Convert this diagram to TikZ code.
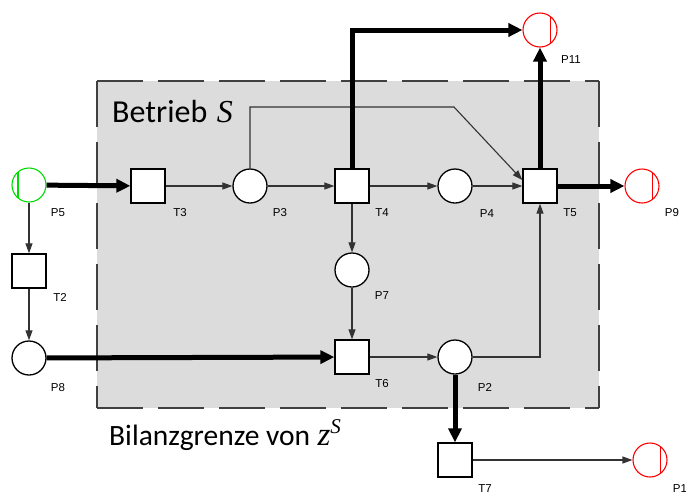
\documentclass[tikz,border=0pt]{standalone}
\usepackage{fontspec}
\setmainfont{Liberation Sans}
\newfontfamily\calfont{Carlito}
\newfontfamily\timesfont{Liberation Serif}
\usetikzlibrary{arrows.meta}
\definecolor{boxgray}{RGB}{220,220,220}
\definecolor{srcgreen}{RGB}{0,220,0}
\tikzset{
  pn/.style={circle, draw, line width=1.3pt, fill=white, minimum size=34pt, inner sep=0pt},
  tn/.style={rectangle, draw, line width=1.3pt, fill=white, minimum size=34pt, inner sep=0pt},
  srcpn/.style={pn, draw=srcgreen, line width=1.1pt, path picture={\draw[srcgreen, line width=1.1pt] ([shift={(-11pt,-15pt)}]path picture bounding box.center) -- ++(0,30pt);}},
  sinkpn/.style={pn, draw=red, line width=1.1pt, path picture={\draw[red, line width=1.1pt] ([shift={(10.5pt,-15pt)}]path picture bounding box.center) -- ++(0,30pt);}},
  lbl/.style={font=\fontsize{11.5}{13}\selectfont, inner sep=0pt},
  arc/.style={draw=black!80, line width=1.1pt, -{Triangle[length=10pt,width=7pt]}},
  bigarc/.style={draw=black, line width=5pt, -{Triangle[length=14pt,width=13pt]}},
  border/.style={draw=black!75, line width=1.5pt, dash pattern=on 46pt off 15pt},
}
\begin{document}
\begin{tikzpicture}[x=1pt,y=-1pt]
\useasboundingbox (0,0) rectangle (686,496);
% system boundary
\fill[boxgray] (97,81) rectangle (599,408);
\coordinate (bTL) at (97,81);
\coordinate (bTR) at (599,81);
\coordinate (bBL) at (97,408);
\coordinate (bBR) at (599,408);
\draw[border] (bTL) -- (bTR);
\draw[border] (bTL) -- (bBL);
\draw[border] (bBL) -- (bBR);
\draw[border] (bTR) -- (bBR);
% texts
\node[anchor=base west, inner sep=0pt] (betrieb) at (112,122) {\fontsize{32}{38}\selectfont\calfont Betrieb\hspace{0.3em}\timesfont\itshape S};
\node[anchor=base west, inner sep=0pt] (bilanz) at (109,445) {\fontsize{29.5}{34}\selectfont\calfont Bilanzgrenze von\hspace{0.25em}{\fontsize{33}{34}\selectfont\timesfont\itshape z}\raisebox{0.4em}{\fontsize{21}{22}\selectfont\timesfont\itshape S}};
% places and transitions
\node[srcpn] (P5) at (29,185) {};
\node[tn] (T3) at (148,186) {};
\node[pn] (P3) at (250,186) {};
\node[tn] (T4) at (352,186) {};
\node[pn] (P4) at (455,186) {};
\node[tn] (T5) at (540,186) {};
\node[sinkpn] (P9) at (642,186) {};
\node[sinkpn] (P11) at (540,30) {};
\node[tn] (T2) at (29,271) {};
\node[pn] (P8) at (29,358) {};
\node[pn] (P7) at (352,270) {};
\node[tn] (T6) at (352,357) {};
\node[pn] (P2) at (455,357) {};
\node[tn] (T7) at (455,460) {};
\node[sinkpn] (P1) at (650,460) {};
% labels
\node[lbl] (P5l) at (58,213) {P5};
\node[lbl] (T3l) at (180,213) {T3};
\node[lbl] (P3l) at (280,213) {P3};
\node[lbl] (T4l) at (382,213) {T4};
\node[lbl] (P4l) at (487,214) {P4};
\node[lbl] (T5l) at (570,213) {T5};
\node[lbl] (P9l) at (672,213) {P9};
\node[lbl] (P11l) at (571,60) {P11};
\node[lbl] (T2l) at (60,297) {T2};
\node[lbl] (P8l) at (58,388) {P8};
\node[lbl] (P7l) at (382,296) {P7};
\node[lbl] (T6l) at (382,384) {T6};
\node[lbl] (P2l) at (485,387) {P2};
\node[lbl] (T7l) at (485,489) {T7};
\node[lbl] (P1l) at (680,489) {P1};
% connectors
\coordinate (c1) at (454,107);
\draw[bigarc] (P5) -- (T3);
\draw[arc] (P5) -- (T2);
\draw[arc] (T2) -- (P8);
\draw[bigarc] (P8) -- (T6);
\draw[arc] (T3) -- (P3);
\draw[arc] (P3) -- (T4);
\draw[arc] (P3.north) |- (c1) -- ([yshift=6pt]T5.west);
\draw[bigarc] (T4.north) |- (P11);
\draw[arc] (T4) -- (P4);
\draw[arc] (T4) -- (P7);
\draw[arc] (P4) -- (T5);
\draw[bigarc] (T5) -- (P11);
\draw[bigarc] (T5) -- (P9);
\draw[arc] (P7) -- (T6);
\draw[arc] (T6) -- (P2);
\draw[arc] (P2.east) -| (T5.south);
\draw[bigarc] (P2) -- (T7);
\draw[arc] (T7) -- (P1);
\end{tikzpicture}
\end{document}
